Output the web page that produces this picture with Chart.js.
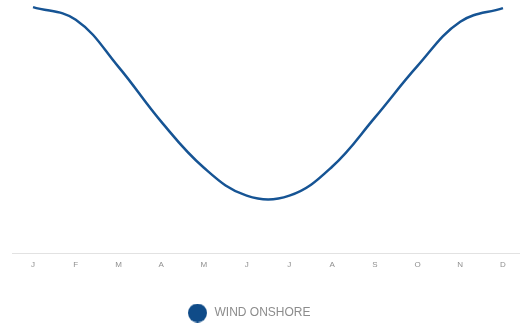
<!DOCTYPE html>
<html>
<head>
<meta charset="utf-8">
<script src="https://cdn.jsdelivr.net/npm/chart.js@4/dist/chart.umd.min.js"></script>
<style>
  html, body { margin: 0; padding: 0; background: #ffffff; }
  #wrap { width: 520px; height: 323px; position: relative; }
</style>
</head>
<body>
<div id="wrap"><canvas id="chart"></canvas></div>
<script>
// Month initials shown along the x axis
const months = ['J', 'F', 'M', 'A', 'M', 'J', 'J', 'A', 'S', 'O', 'N', 'D'];
// Monthly onshore wind output profile (relative units)
const windOnshore = [48.6, 46.1, 36.8, 26.0, 16.9, 11.4, 11.4, 17.1, 26.8, 37.0, 45.7, 48.4];
const seriesName = 'WIND ONSHORE';

const lineColor = '#165494';
const dotColor = '#0f4b88';

// Round legend marker
const dot = document.createElement('canvas');
dot.width = 19; dot.height = 19;
(function () {
  const g = dot.getContext('2d');
  g.fillStyle = dotColor;
  g.beginPath();
  g.arc(9.5, 9.5, 9.5, 0, Math.PI * 2);
  g.fill();
})();

// Moves the legend row a little left of the canvas centre
const legendShift = 17;
const legendNudge = {
  id: 'legendNudge',
  afterLayout(chart) {
    const lg = chart.legend;
    if (lg) { lg.left -= legendShift; lg.right -= legendShift; }
  }
};

new Chart(document.getElementById('chart'), {
  type: 'line',
  data: {
    datasets: [{
      label: seriesName,
      data: windOnshore.map((v, i) => ({ x: i, y: v })),
      borderColor: lineColor,
      backgroundColor: dotColor,
      borderWidth: 2.5,
      pointRadius: 0,
      pointHoverRadius: 0,
      tension: 0.4,
      fill: false
    }]
  },
  options: {
    responsive: true,
    maintainAspectRatio: false,
    animation: false,
    layout: { padding: { left: 12, right: 1, top: 0, bottom: -6 } },
    scales: {
      x: {
        type: 'linear',
        min: -0.4925,
        max: 11.375,
        afterBuildTicks(scale) {
          scale.ticks = months.map((_, i) => ({ value: i }));
        },
        grid: { display: false, drawTicks: false },
        border: { display: true, color: '#e2e2e2', width: 1 },
        ticks: {
          autoSkip: false,
          maxRotation: 0,
          padding: 7,
          color: '#8f8f8f',
          font: { family: 'Liberation Sans', size: 8 },
          callback: (v) => months[v]
        }
      },
      y: {
        display: false,
        min: 0,
        max: 50
      }
    },
    plugins: {
      tooltip: { enabled: false },
      legend: {
        position: 'bottom',
        labels: {
          usePointStyle: true,
          pointStyleWidth: 22,
          padding: 30,
          color: '#8c8c8c',
          font: { family: 'Liberation Sans', size: 12 },
          generateLabels(chart) {
            const items = Chart.defaults.plugins.legend.labels.generateLabels(chart);
            items.forEach(it => { it.pointStyle = dot; });
            return items;
          }
        }
      }
    }
  },
  plugins: [legendNudge]
});
</script>
</body>
</html>
